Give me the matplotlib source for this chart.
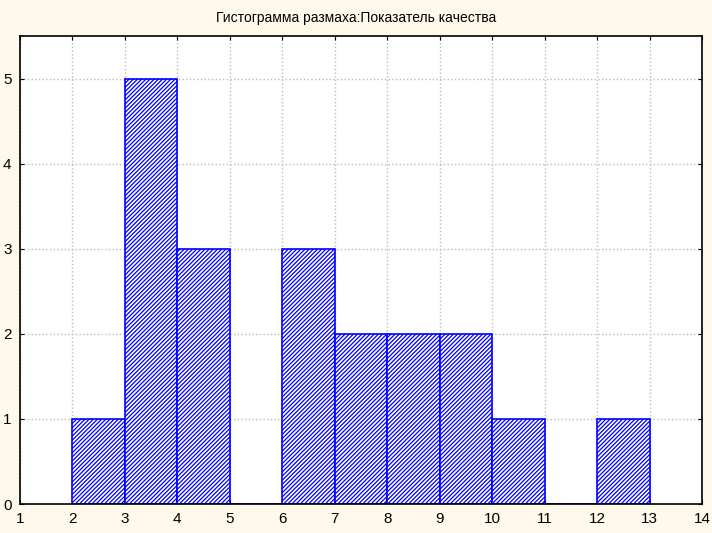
import matplotlib
matplotlib.use('Agg')
import matplotlib.pyplot as plt

# данные гистограммы
bin_left = [2, 3, 4, 5, 6, 7, 8, 9, 10, 11, 12]
counts = [1, 5, 3, 0, 3, 2, 2, 2, 1, 0, 1]
x_ticks = list(range(1, 15))
y_ticks = [0, 1, 2, 3, 4, 5]
title = 'Гистограмма размаха:Показатель качества'

plt.rcParams['font.family'] = ['Liberation Sans', 'DejaVu Sans']
plt.rcParams['hatch.color'] = '#0000FF'
plt.rcParams['hatch.linewidth'] = 0.9

bg = '#FFF9EC'
fig = plt.figure(figsize=(7.12, 5.33), dpi=100, facecolor=bg)
ax = fig.add_axes([0.028, 0.0544, 0.958, 0.878])

ax.bar(bin_left, counts, width=1, align='edge', facecolor='white',
       edgecolor='#0000FF', linewidth=1.2, hatch='////////', zorder=3)

ax.set_xlim(1, 14)
ax.set_ylim(0, 5.5)
ax.set_xticks(x_ticks)
ax.set_yticks(y_ticks)
ax.grid(True, color='#bbbbbb', linestyle=':', linewidth=1, zorder=0)
ax.tick_params(direction='in', length=3, labelsize=11, top=True, right=True,
               labeltop=False, labelright=False, pad=6)
for s in ax.spines.values():
    s.set_linewidth(1.2)
    s.set_zorder(4)

fig.text(0.5, 0.967, title, ha='center', va='center', fontsize=10)

fig.savefig('out.png', dpi=100, facecolor=bg)
